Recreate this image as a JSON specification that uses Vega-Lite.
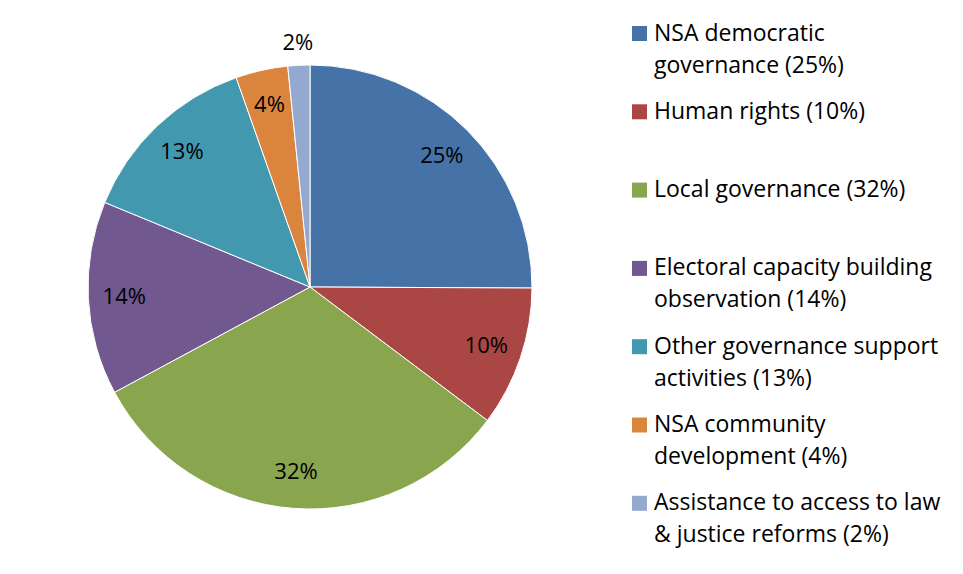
{
  "$schema": "https://vega.github.io/schema/vega-lite/v6.json",
  "width": 620,
  "height": 574,
  "autosize": {"type": "none"},
  "padding": {"left": 0, "top": 0, "right": 343, "bottom": 0},
  "background": "white",
  "config": {
    "view": {"stroke": null},
    "font": "Open Sans",
    "style": {"guide-label": {"lineHeight": 32}}
  },
  "data": {
    "values": [
      {"k": 1, "cat": "NSA democratic|governance (25%)", "v": 25.1, "label": "25%"},
      {"k": 2, "cat": "Human rights (10%)", "v": 10.2, "label": "10%"},
      {"k": 3, "cat": "Local governance (32%)", "v": 31.9, "label": "32%"},
      {"k": 4, "cat": "Electoral capacity building|observation (14%)", "v": 14.1, "label": "14%"},
      {"k": 5, "cat": "Other governance support|activities (13%)", "v": 13.4, "label": "13%"},
      {"k": 6, "cat": "NSA community|development (4%)", "v": 3.8, "label": "4%"},
      {"k": 7, "cat": "Assistance to access to law|& justice reforms (2%)", "v": 1.6, "label": "2%"}
    ]
  },
  "encoding": {
    "theta": {"field": "v", "type": "quantitative", "stack": true},
    "order": {"field": "k", "type": "quantitative"}
  },
  "layer": [
    {
      "mark": {"type": "arc", "outerRadius": 222, "stroke": "white", "strokeWidth": 1},
      "encoding": {
        "color": {
          "field": "cat",
          "type": "nominal",
          "sort": null,
          "scale": {
            "domain": ["NSA democratic|governance (25%)", "Human rights (10%)", "Local governance (32%)", "Electoral capacity building|observation (14%)", "Other governance support|activities (13%)", "NSA community|development (4%)", "Assistance to access to law|& justice reforms (2%)"],
            "range": ["#4572A7", "#AA4643", "#89A54E", "#71588F", "#4198AF", "#DB843D", "#93A9CF"]
          },
          "legend": {
            "orient": "none",
            "legendX": 628,
            "legendY": 22,
            "title": null,
            "padding": 0,
            "symbolType": "square",
            "symbolSize": 225,
            "symbolStrokeWidth": 0,
            "symbolOpacity": 1,
            "labelFontSize": 23,
            "labelColor": "#000000",
            "labelFont": "Open Sans",
            "labelLimit": 400,
            "labelOffset": 3,
            "labelExpr": "split(datum.label, '|')",
            "gridAlign": "all",
            "rowPadding": 22.3
          }
        }
      }
    },
    {
      "mark": {"type": "text", "radius": 186, "fontSize": 22, "color": "#000000"},
      "encoding": {
        "text": {"condition": {"test": "datum.v >= 3", "field": "label"}, "value": ""}
      }
    },
    {
      "mark": {"type": "text", "radius": 244, "fontSize": 22, "color": "#000000"},
      "encoding": {
        "text": {"condition": {"test": "datum.v < 3", "field": "label"}, "value": ""}
      }
    }
  ]
}
